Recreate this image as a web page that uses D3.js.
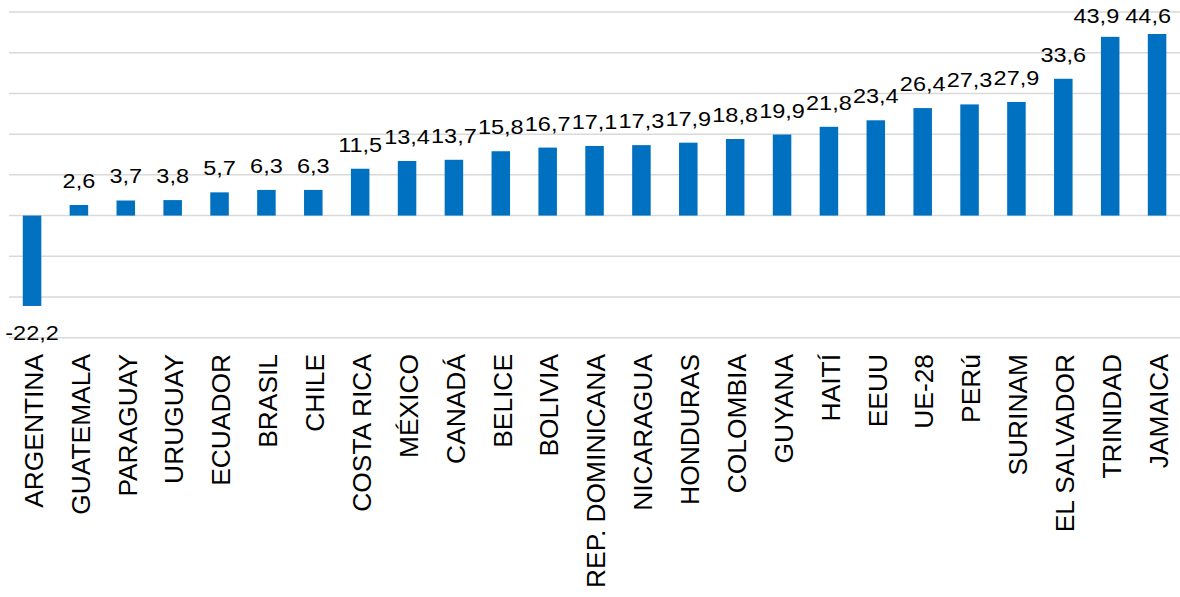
<!DOCTYPE html>
<html>
<head>
<meta charset="utf-8">
<script src="https://cdn.jsdelivr.net/npm/d3@7"></script>
<style>
  html, body { margin: 0; padding: 0; background: #fff; }
  svg { display: block; }
  text { font-family: "Liberation Sans", Arial, sans-serif; fill: #000; }
</style>
</head>
<body>
<svg id="chart" width="1180" height="597"></svg>
<script>
const categories = ["ARGENTINA","GUATEMALA","PARAGUAY","URUGUAY","ECUADOR","BRASIL","CHILE","COSTA RICA","MÉXICO","CANADÁ","BELICE","BOLIVIA","REP. DOMINICANA","NICARAGUA","HONDURAS","COLOMBIA","GUYANA","HAITÍ","EEUU","UE-28","PERú","SURINAM","EL SALVADOR","TRINIDAD","JAMAICA"];
const values = [-22.2, 2.6, 3.7, 3.8, 5.7, 6.3, 6.3, 11.5, 13.4, 13.7, 15.8, 16.7, 17.1, 17.3, 17.9, 18.8, 19.9, 21.8, 23.4, 26.4, 27.3, 27.9, 33.6, 43.9, 44.6];
const yTicks = [-30, -20, -10, 0, 10, 20, 30, 40, 50];

const svg = d3.select("#chart");
const x = d3.scaleBand().domain(categories).range([8.6, 1180.5]).paddingInner(0.605).paddingOuter(0.3025);
const y = d3.scaleLinear().domain([-30, 50]).range([337.7, 12]);

// gridlines
svg.append("g").selectAll("line").data(yTicks).join("line")
  .attr("x1", 9).attr("x2", 1180)
  .attr("y1", d => y(d)).attr("y2", d => y(d))
  .attr("stroke", "#d9d9d9").attr("stroke-width", 1.5);

const data = categories.map((c, i) => ({c, v: values[i]}));

svg.append("g").selectAll("rect").data(data).join("rect")
  .attr("x", d => x(d.c))
  .attr("width", x.bandwidth())
  .attr("y", d => y(Math.max(0, d.v)))
  .attr("height", d => Math.abs(y(d.v) - y(0)))
  .attr("fill", "#0070C0");

const fmt = v => v.toFixed(1).replace(".", ",");
const sx = 1.12;
const labels = svg.append("g").selectAll("text").data(data).join("text")
  .attr("text-anchor", "middle")
  .attr("font-size", 21)
  .text(d => fmt(d.v));

// compute positions, right to left, keeping labels inside the plot
const nodes = labels.nodes();
let prevLeft = Infinity, prevClamped = false;
for (let i = nodes.length - 1; i >= 0; i--) {
  const d = data[i];
  const w = nodes[i].getComputedTextLength() * sx;
  let cx = x(d.c) + x.bandwidth() / 2;
  const rawBy = d.v >= 0 ? y(d.v) - 17 : y(d.v) + 34;
  const clamped = d.v >= 0 && rawBy < 23;
  const by = clamped ? 23 : rawBy;
  cx = Math.min(cx, 1171 - w / 2);
  if (clamped && prevClamped) cx = Math.min(cx, prevLeft - 6 - w / 2);
  prevLeft = cx - w / 2;
  prevClamped = clamped;
  d3.select(nodes[i]).attr("transform", `translate(${cx},${by}) scale(${sx},1)`);
}

svg.append("g").selectAll("text").data(data).join("text")
  .attr("transform", d => `translate(${x(d.c) + x.bandwidth() / 2 + 2},354) rotate(-90) scale(1.055,1)`)
  .attr("text-anchor", "end")
  .attr("dy", "0.35em")
  .attr("font-size", 25)
  .text(d => d.c);
</script>
</body>
</html>
